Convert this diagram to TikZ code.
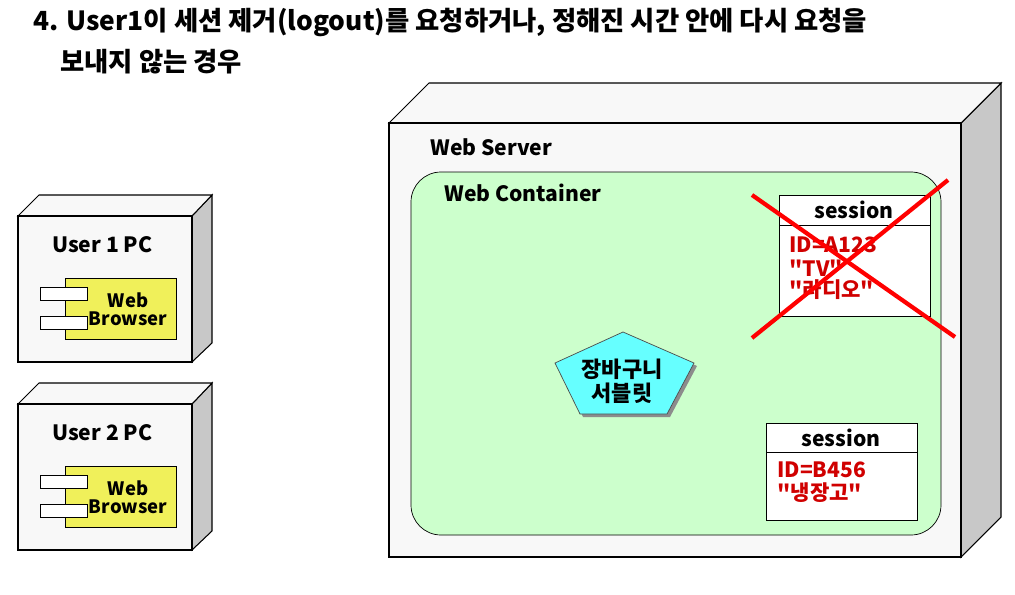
\documentclass[tikz,border=0pt]{standalone}
\usepackage{fontspec}
\setmainfont{Noto Sans CJK KR}
\newfontfamily\krplain{Noto Sans CJK KR}
\usetikzlibrary{positioning}
\definecolor{facegray}{RGB}{248,248,248}
\definecolor{sidegray}{RGB}{200,200,200}
\definecolor{compyellow}{RGB}{240,240,90}
\definecolor{contgreen}{RGB}{204,255,204}
\definecolor{servcyan}{RGB}{102,255,255}
\definecolor{sessred}{RGB}{208,0,0}
\newcommand{\fs}[1]{\fontsize{#1}{#1}\selectfont}

\begin{document}
\begin{tikzpicture}[x=0.02cm,y=-0.02cm,
                    face/.style={draw=black,fill=facegray,line width=0.6pt},
                    side/.style={draw=black,fill=sidegray,line width=0.6pt},
                    title/.style={anchor=west,inner sep=0pt,font=\bfseries\fs{15}},
                    boxlabel/.style={anchor=west,inner sep=0pt,font=\bfseries\fs{12}},
                    entry/.style={anchor=west,inner sep=0pt,text=sessred,
                                  font=\krplain\bfseries\fs{12}}]

  \useasboundingbox [fill=white] (0,0) rectangle (1015,595);

  \node [title] (head1) at (33,23)
        {4. User1이 세션 제거(logout)를 요청하거나, 정해진 시간 안에 다시 요청을};
  \node [title] (head2) at (60,62) {보내지 않는 경우};

  % user 1 pc
  \draw [side] (192,216) -- (212,195) -- (212,343) -- (192,362) -- cycle;
  \draw [face] (18,216) -- (39,195) -- (212,195) -- (192,216) -- cycle;
  \draw [face] (18,216) rectangle (192,362);
  \node [boxlabel] (pc1) at (52,245) {User 1 PC};
  \draw [draw=black,fill=compyellow] (65,278) rectangle (176,339);
  \draw [draw=black,fill=white] (40,287) rectangle (87,300);
  \draw [draw=black,fill=white] (40,316) rectangle (87,329);
  \node [align=center,inner sep=0pt,font=\bfseries\fs{10.5}]
        (wb1) at (128,309) {Web\\ Browser};

  % user 2 pc
  \draw [side] (192,404) -- (212,383) -- (212,531) -- (192,550) -- cycle;
  \draw [face] (18,404) -- (39,383) -- (212,383) -- (192,404) -- cycle;
  \draw [face] (18,404) rectangle (192,550);
  \node [boxlabel] (pc2) at (52,433) {User 2 PC};
  \draw [draw=black,fill=compyellow] (65,466) rectangle (176,527);
  \draw [draw=black,fill=white] (40,475) rectangle (87,488);
  \draw [draw=black,fill=white] (40,504) rectangle (87,517);
  \node [align=center,inner sep=0pt,font=\bfseries\fs{10.5}]
        (wb2) at (128,497) {Web\\ Browser};

  % web server
  \draw [side] (961,123) -- (1001,83) -- (1001,517) -- (961,557) -- cycle;
  \draw [face] (389,123) -- (429,83) -- (1001,83) -- (961,123) -- cycle;
  \draw [face] (389,123) rectangle (961,557);
  \node [boxlabel] (server) at (430,147) {Web Server};

  \draw [draw=black,fill=contgreen,rounded corners=0.6cm] (411,172) rectangle (941,535);
  \node [boxlabel] (container) at (444,193) {Web Container};

  % cart servlet
  \fill [black!45] (626,335) -- (697,366) -- (670,417) -- (583,417) -- (558,366) -- cycle;
  \draw [draw=black!70,fill=servcyan] (623,332) -- (694,363) -- (667,414)
        -- (580,414) -- (555,363) -- cycle;
  \node [align=center,inner sep=0pt,font=\bfseries\fs{12.5}] (cart) at (622,381)
        {장바구니\\[1pt] 서블릿};

  % removed session
  \draw [draw=black,fill=white] (779,195) rectangle (930,316);
  \draw (779,225) -- (930,225);
  \node [font=\bfseries\fs{12},inner sep=0pt] (sess1) at (854,210) {session};
  \node [entry] (id1) at (789,245) {ID=A123};
  \node [entry] (tv) at (789,268) {"TV"};
  \node [entry] (radio) at (789,290) {"라디오"};
  \draw [red,line width=2.4pt] (752,195) -- (955,337);
  \draw [red,line width=2.4pt] (752,338) -- (948,180);

  % remaining session
  \draw [draw=black,fill=white] (766,423) rectangle (917,520);
  \draw (766,452) -- (917,452);
  \node [font=\bfseries\fs{12},inner sep=0pt] (sess2) at (841,438) {session};
  \node [entry] (id2) at (777,470) {ID=B456};
  \node [entry] (fridge) at (777,493) {"냉장고"};

\end{tikzpicture}
\end{document}
